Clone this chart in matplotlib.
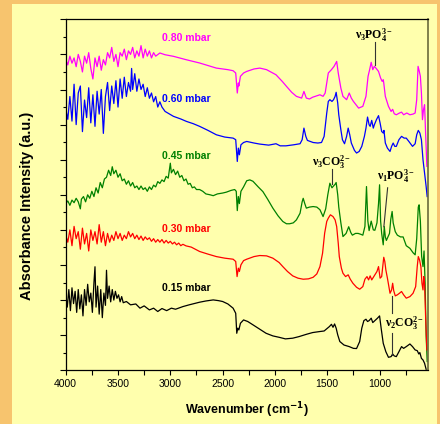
import numpy as np
import matplotlib
matplotlib.use("Agg")
import matplotlib.pyplot as plt
from matplotlib.ticker import MultipleLocator, NullFormatter
from matplotlib.patches import Rectangle

plt.rcParams["font.family"] = ["Liberation Sans", "DejaVu Sans"]
# serif bold for the band assignments (used through math_fontfamily="custom")
plt.rcParams["mathtext.bf"] = "Liberation Serif:bold"
plt.rcParams["mathtext.rm"] = "Liberation Serif:bold"
plt.rcParams["mathtext.it"] = "Liberation Serif:bold"

# spectra: (wavenumber cm-1, absorbance a.u.)
spec_080 = [
    (4000, 17.7), (3980, 17.4), (3960, 17.9), (3940, 17.5), (3920, 17.8), (3900, 17.3),
    (3880, 18.0), (3860, 17.6), (3840, 17.0), (3820, 17.9), (3800, 17.5), (3780, 18.1),
    (3760, 17.2), (3740, 16.6), (3720, 17.8), (3700, 17.3), (3680, 17.9), (3660, 17.1),
    (3640, 17.7), (3620, 17.4), (3600, 18.1), (3580, 17.8), (3560, 18.4), (3540, 17.6),
    (3520, 18.0), (3500, 17.3), (3480, 18.1), (3460, 17.9), (3440, 18.3), (3420, 17.7),
    (3400, 18.2), (3380, 18.0), (3360, 18.4), (3340, 17.8), (3320, 18.2), (3300, 17.9),
    (3280, 18.5), (3260, 17.8), (3240, 18.3), (3220, 17.9), (3200, 18.2), (3180, 17.8),
    (3160, 18.1), (3140, 17.9), (3100, 18.08), (3050, 17.98), (2970, 17.89), (2850, 17.70),
    (2720, 17.51), (2560, 17.22), (2450, 17.13), (2400, 17.07), (2375, 16.94), (2360, 15.80),
    (2350, 16.37), (2345, 16.2), (2330, 16.75), (2300, 16.94), (2270, 17.03), (2200, 17.17),
    (2145, 17.22), (2080, 17.13), (1990, 16.84), (1930, 16.46), (1890, 16.18), (1840, 15.84),
    (1795, 15.61), (1745, 15.51), (1723, 15.89), (1700, 15.51), (1670, 15.46), (1640, 15.56),
    (1615, 15.61), (1570, 15.70), (1540, 15.61), (1520, 15.80), (1490, 16.94), (1460, 17.13),
    (1435, 17.32), (1410, 17.60), (1395, 16.94), (1370, 16.08), (1350, 15.61), (1315, 15.42),
    (1290, 15.80), (1270, 15.51), (1250, 15.32), (1200, 14.94), (1160, 15.04), (1130, 15.61),
    (1110, 16.75), (1095, 17.13), (1080, 17.55), (1065, 17.13), (1050, 17.32), (1035, 17.22),
    (1010, 17.03), (990, 16.65), (975, 16.46), (965, 16.56), (960, 16.37), (945, 15.61),
    (915, 15.04), (890, 14.75), (875, 14.87), (860, 14.62), (840, 14.56), (810, 14.66),
    (790, 14.71), (770, 14.56), (740, 14.66), (710, 14.56), (680, 14.60), (660, 14.66),
    (645, 15.42), (632, 17.32), (620, 17.03), (610, 16.75), (600, 15.80), (590, 14.28),
    (580, 14.85), (570, 15.13), (560, 13.52), (548, 11.62),
]

spec_060 = [
    (4000, 14.9), (3980, 14.3), (3960, 15.6), (3940, 14.2), (3920, 16.3), (3900, 14.0),
    (3880, 15.8), (3860, 16.2), (3840, 13.6), (3820, 15.4), (3800, 14.4), (3780, 16.1),
    (3760, 14.1), (3740, 15.7), (3720, 13.9), (3700, 15.9), (3680, 14.6), (3660, 16.0),
    (3640, 13.5), (3620, 15.6), (3600, 16.4), (3580, 14.8), (3560, 16.2), (3540, 15.2),
    (3520, 16.5), (3500, 15.0), (3480, 16.6), (3460, 15.5), (3440, 16.7), (3420, 15.6),
    (3400, 16.4), (3380, 15.9), (3370, 17.2), (3360, 16.0), (3340, 16.9), (3320, 15.9),
    (3300, 16.6), (3280, 16.0), (3260, 16.3), (3240, 15.6), (3220, 16.1), (3200, 15.5),
    (3180, 15.8), (3160, 15.3), (3140, 15.6), (3120, 15.0), (3100, 15.3), (3080, 15.0),
    (3050, 14.75), (2970, 14.47), (2900, 14.32), (2845, 14.18), (2780, 14.05), (2720, 13.90),
    (2640, 13.67), (2560, 13.42), (2480, 13.29), (2400, 13.23), (2375, 13.14), (2360, 11.90),
    (2350, 12.66), (2340, 12.28), (2325, 12.85), (2300, 12.98), (2270, 13.04), (2200, 12.95),
    (2145, 12.89), (2060, 12.83), (1990, 12.91), (1950, 12.79), (1895, 12.79), (1820, 12.85),
    (1760, 12.91), (1740, 13.14), (1723, 13.80), (1705, 13.33), (1690, 13.10), (1635, 12.98),
    (1590, 12.95), (1555, 12.98), (1530, 13.33), (1505, 14.66), (1490, 15.32), (1475, 15.42),
    (1455, 15.32), (1440, 15.42), (1425, 15.61), (1415, 15.84), (1400, 15.23), (1390, 14.56),
    (1370, 13.71), (1355, 13.14), (1335, 12.91), (1315, 13.33), (1300, 13.80), (1285, 13.42),
    (1270, 12.95), (1240, 12.53), (1220, 12.38), (1195, 12.47), (1170, 12.76), (1145, 13.33),
    (1130, 13.80), (1115, 14.43), (1100, 13.99), (1090, 13.90), (1075, 14.24), (1060, 13.80),
    (1050, 13.99), (1030, 14.28), (1010, 14.51), (995, 14.09), (980, 13.61), (965, 13.52),
    (958, 13.67), (945, 12.95), (925, 12.66), (900, 12.47), (885, 12.76), (870, 12.95),
    (855, 12.76), (840, 12.76), (815, 13.14), (790, 13.33), (765, 13.23), (745, 13.23),
    (720, 13.04), (685, 12.76), (660, 12.91), (645, 13.42), (630, 13.67), (615, 13.52),
    (600, 13.14), (585, 12.00), (570, 11.24), (555, 10.48), (545, 9.90),
]

spec_045 = [
    (4000, 9.5), (3980, 9.65), (3960, 9.4), (3940, 9.7), (3920, 9.55), (3900, 9.8),
    (3880, 9.6), (3860, 9.2), (3850, 9.75), (3830, 9.9), (3810, 9.6), (3790, 10.0),
    (3770, 9.8), (3750, 10.2), (3730, 9.9), (3710, 10.4), (3690, 10.1), (3670, 10.7),
    (3650, 10.4), (3630, 10.9), (3610, 11.0), (3590, 11.4), (3570, 11.1), (3555, 11.6),
    (3540, 11.2), (3520, 11.4), (3500, 11.0), (3480, 11.2), (3460, 10.8), (3440, 10.9),
    (3420, 10.6), (3400, 10.8), (3380, 10.5), (3360, 10.7), (3340, 10.4), (3320, 10.5),
    (3300, 10.3), (3280, 10.5), (3260, 10.3), (3240, 10.4), (3220, 10.2), (3200, 10.45),
    (3180, 10.3), (3160, 10.55), (3140, 10.45), (3120, 10.75), (3100, 10.65), (3080, 10.85),
    (3060, 10.75), (3040, 11.05), (3020, 10.95), (3000, 11.8), (2990, 11.25), (2970, 11.45),
    (2950, 11.15), (2930, 11.35), (2910, 11.0), (2890, 11.1), (2870, 10.8), (2850, 10.9),
    (2830, 10.6), (2810, 10.65), (2790, 10.4), (2770, 10.45), (2750, 10.3), (2720, 10.3),
    (2690, 10.2), (2660, 10.05), (2620, 10.0), (2590, 9.95), (2550, 10.05), (2500, 10.1),
    (2465, 10.15), (2420, 10.25), (2385, 10.3), (2370, 10.2), (2360, 9.1), (2350, 9.9),
    (2340, 9.5), (2325, 10.2), (2300, 10.45), (2270, 10.8), (2240, 10.85), (2210, 10.77),
    (2160, 10.45), (2115, 10.18), (2070, 9.75), (2020, 9.24), (1970, 8.8), (1925, 8.48),
    (1890, 8.35), (1860, 8.35), (1825, 8.4), (1795, 8.57), (1760, 8.95), (1740, 9.6),
    (1730, 9.8), (1715, 9.5), (1700, 9.24), (1670, 9.3), (1635, 9.33), (1600, 9.3),
    (1570, 9.15), (1540, 8.76), (1515, 9.2), (1495, 10.0), (1475, 10.66), (1455, 10.4),
    (1440, 10.5), (1425, 10.6), (1415, 10.7), (1400, 10.0), (1390, 9.3), (1370, 8.4),
    (1350, 7.62), (1320, 7.8), (1295, 8.18), (1275, 7.85), (1260, 7.7), (1230, 7.8),
    (1205, 7.8), (1180, 7.75), (1160, 7.7), (1140, 8.2), (1125, 10.47), (1112, 8.5),
    (1100, 7.96), (1080, 8.5), (1060, 8.0), (1045, 7.98), (1025, 8.4), (1010, 9.5),
    (1000, 10.57), (990, 8.5), (980, 7.8), (965, 7.15), (955, 8.19), (945, 7.6),
    (935, 7.4), (920, 7.6), (905, 7.8), (893, 8.6), (880, 9.05), (870, 8.4),
    (850, 7.9), (830, 7.7), (800, 7.6), (775, 7.6), (745, 7.1), (710, 6.95),
    (680, 6.7), (660, 6.58), (645, 7.5), (630, 9.3), (622, 9.43), (610, 8.5),
    (598, 6.5), (585, 5.91), (575, 6.8), (565, 5.0), (555, 2.0), (545, 0.5),
]

spec_030 = [
    (4000, 7.7), (3980, 7.3), (3960, 8.0), (3940, 7.1), (3920, 8.2), (3900, 7.5),
    (3880, 7.9), (3860, 6.9), (3840, 8.1), (3820, 7.2), (3800, 7.8), (3780, 6.8),
    (3760, 8.0), (3740, 7.4), (3720, 7.9), (3700, 7.2), (3680, 8.3), (3660, 7.3),
    (3640, 7.9), (3620, 7.1), (3600, 7.8), (3580, 7.3), (3560, 7.7), (3540, 7.4),
    (3520, 7.9), (3500, 7.5), (3480, 7.8), (3460, 7.4), (3440, 7.7), (3420, 7.5),
    (3400, 7.9), (3380, 7.6), (3360, 7.8), (3340, 7.5), (3320, 7.7), (3300, 7.45),
    (3280, 7.65), (3260, 7.4), (3240, 7.6), (3220, 7.45), (3200, 7.55), (3180, 7.35),
    (3160, 7.5), (3140, 7.3), (3120, 7.45), (3100, 7.3), (3080, 7.45), (3060, 7.25),
    (3040, 7.4), (3020, 7.25), (3000, 7.35), (2980, 7.2), (2960, 7.3), (2940, 7.15),
    (2920, 7.25), (2900, 7.1), (2880, 7.18), (2850, 7.09), (2800, 7.02), (2720, 6.77),
    (2640, 6.62), (2560, 6.48), (2480, 6.39), (2400, 6.33), (2375, 6.2), (2362, 5.34),
    (2350, 5.82), (2340, 5.63), (2325, 6.01), (2300, 6.25), (2270, 6.33), (2200, 6.48),
    (2145, 6.54), (2080, 6.52), (2020, 6.39), (1960, 6.14), (1925, 5.91), (1880, 5.63),
    (1830, 5.38), (1780, 5.25), (1730, 5.19), (1680, 5.21), (1635, 5.30), (1600, 5.49),
    (1570, 5.91), (1545, 6.67), (1525, 7.81), (1505, 8.48), (1490, 8.67), (1470, 8.86),
    (1455, 8.80), (1445, 8.76), (1425, 8.57), (1410, 8.19), (1395, 7.24), (1385, 6.48),
    (1365, 5.82), (1350, 5.53), (1325, 5.34), (1300, 5.44), (1280, 5.19), (1255, 4.96),
    (1220, 4.73), (1190, 4.62), (1160, 4.77), (1140, 5.19), (1120, 5.34), (1105, 5.15),
    (1090, 5.38), (1075, 5.15), (1060, 5.30), (1045, 5.44), (1025, 5.63), (1010, 5.91),
    (995, 5.25), (980, 5.34), (970, 5.91), (960, 6.44), (950, 6.2), (940, 5.72),
    (925, 5.25), (910, 4.73), (900, 4.39), (885, 4.58), (875, 4.96), (865, 4.54),
    (850, 4.24), (830, 4.30), (810, 4.39), (790, 4.49), (770, 4.30), (745, 4.11),
    (710, 4.20), (680, 4.39), (655, 4.77), (640, 5.91), (630, 6.48), (618, 6.29),
    (605, 5.91), (595, 4.96), (585, 4.58), (578, 5.34), (570, 4.96), (560, 3.06),
    (548, 1.16),
]

spec_015 = [
    (4000, 4.4), (3985, 3.6), (3970, 4.6), (3955, 3.4), (3940, 4.7), (3925, 3.8),
    (3910, 4.5), (3895, 3.3), (3880, 4.6), (3865, 3.5), (3850, 4.3), (3835, 3.1),
    (3820, 4.6), (3805, 3.7), (3790, 4.9), (3775, 3.9), (3760, 4.4), (3745, 3.3),
    (3730, 5.0), (3720, 5.9), (3710, 3.6), (3695, 4.8), (3680, 3.2), (3665, 4.6),
    (3650, 3.0), (3635, 4.4), (3620, 3.7), (3610, 5.7), (3600, 4.1), (3585, 4.8),
    (3570, 3.9), (3555, 4.6), (3540, 4.0), (3525, 4.5), (3510, 4.1), (3495, 4.3),
    (3480, 3.9), (3465, 4.2), (3450, 3.85), (3420, 3.92), (3380, 3.73), (3330, 3.78),
    (3290, 3.54), (3250, 3.67), (3200, 3.44), (3160, 3.54), (3120, 3.35), (3080, 3.52),
    (3035, 3.40), (2990, 3.54), (2950, 3.48), (2880, 3.63), (2820, 3.73), (2760, 3.82),
    (2720, 3.88), (2660, 3.95), (2590, 4.01), (2540, 3.97), (2500, 3.92), (2450, 3.78),
    (2400, 3.54), (2375, 3.25), (2365, 2.11), (2355, 2.40), (2345, 2.30), (2330, 2.68),
    (2300, 2.87), (2260, 2.78), (2210, 2.59), (2150, 2.36), (2085, 2.11), (2020, 1.96),
    (1960, 1.88), (1900, 1.79), (1830, 1.83), (1770, 1.92), (1700, 2.05), (1640, 2.15),
    (1570, 2.21), (1530, 2.24), (1510, 2.34), (1480, 2.49), (1460, 2.62), (1445, 2.45),
    (1430, 2.64), (1415, 2.40), (1400, 2.02), (1380, 1.64), (1340, 1.44), (1290, 1.35),
    (1250, 1.25), (1220, 1.24), (1190, 1.64), (1170, 2.40), (1150, 2.83), (1130, 2.91),
    (1115, 2.78), (1100, 2.83), (1080, 2.97), (1065, 2.72), (1045, 2.83), (1020, 2.97),
    (1000, 3.10), (985, 2.40), (965, 1.54), (940, 1.06), (915, 0.74), (890, 0.78),
    (875, 0.93), (860, 0.82), (840, 0.78), (815, 1.06), (790, 1.35), (770, 1.25),
    (745, 1.35), (710, 1.50), (685, 1.35), (660, 1.16), (640, 1.12), (625, 0.93),
    (615, 1.01), (600, 0.68), (585, 0.59), (570, 0.40), (555, 0.06),
]

series = [
    ("0.80 mbar", spec_080, "#ff00ff", 18.96),
    ("0.60 mbar", spec_060, "#0000ff", 15.47),
    ("0.45 mbar", spec_045, "#008000", 12.22),
    ("0.30 mbar", spec_030, "#ff0000", 8.06),
    ("0.15 mbar", spec_015, "#000000", 4.70),
]
label_x = 3080

# band assignments: text, text position, marker line segments
bands = [
    (r"$\mathbf{\nu_3PO_4^{3-}}$", (1050, 19.1), [((1045, 18.73), (1045, 17.42))]),
    (r"$\mathbf{\nu_3CO_3^{2-}}$", (1455, 11.85), [((1453, 11.48), (1453, 10.62))]),
    (r"$\mathbf{\nu_1PO_4^{3-}}$", (843, 11.05), [((923, 10.40), (959, 8.18))]),
    (r"$\mathbf{\nu_2CO_3^{2-}}$", (757, 2.70), [((877, 4.24), (877, 3.27)),
                                              ((877, 2.13), (877, 0.87))]),
]

fig = plt.figure(figsize=(4.4, 4.24), dpi=100)
fig.patch.set_facecolor("#f7c46e")
fig.patches.append(Rectangle((12 / 440, 0), 425 / 440, 1 - 4 / 424,
                             transform=fig.transFigure, facecolor="#ffffad",
                             edgecolor="none", zorder=-5))

ax = fig.add_axes([65.7 / 440, 1 - 370.3 / 424, 362 / 440, 351 / 424])
ax.set_facecolor("#ffffad")

for name, spec, color, ly in series:
    wn, ab = np.array(spec).T
    ax.plot(wn, ab, color=color, lw=0.9)
    ax.text(label_x, ly, name, color=color, fontsize=7.5, fontweight="bold",
            ha="left", va="center")

for txt, (tx, ty), segs in bands:
    ax.text(tx, ty, txt, fontsize=8.5, ha="center", va="center",
            math_fontfamily="custom", color="black")
    for (x0, y0), (x1, y1) in segs:
        ax.plot([x0, x1], [y0, y1], color="#333333", lw=0.8)

ax.set_xlim(4000, 540)
ax.set_ylim(0, 20)
ax.xaxis.set_major_locator(MultipleLocator(500))
ax.xaxis.set_minor_locator(MultipleLocator(250))
ax.yaxis.set_major_locator(MultipleLocator(2))
ax.yaxis.set_minor_locator(MultipleLocator(1))
ax.yaxis.set_major_formatter(NullFormatter())
ax.tick_params(axis="x", which="both", direction="out", length=3.5, width=0.8,
               labelsize=7.5, pad=3)
ax.tick_params(axis="y", which="major", direction="out", length=4.5, width=0.8)
ax.tick_params(axis="y", which="minor", direction="out", length=2.5, width=0.8)
for side in ["left", "bottom", "top"]:
    ax.spines[side].set_linewidth(0.9)
ax.spines["right"].set_color("#6b6b3a")
ax.spines["right"].set_linewidth(1.2)

ax.set_xlabel(r"Wavenumber (cm$^{\mathbf{-1}}$)", fontsize=9, fontweight="bold")
ax.set_ylabel("Absorbance Intensity (a.u.)", fontsize=10.5, fontweight="bold")
ax.xaxis.set_label_coords(0.5, -0.087)
ax.yaxis.set_label_coords(-0.088, 0.468)

fig.savefig("out.png", dpi=100, facecolor=fig.get_facecolor())
